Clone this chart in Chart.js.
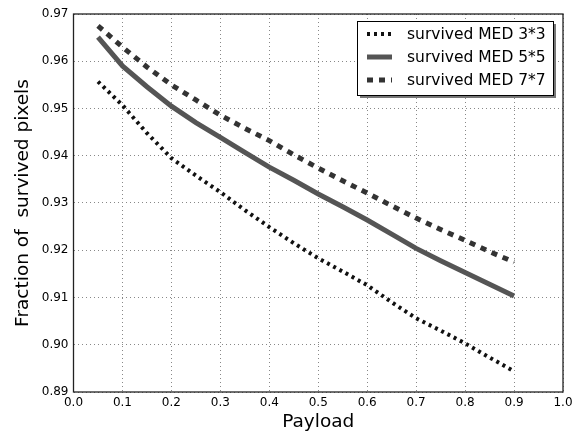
<!DOCTYPE html>
<html><head><meta charset="utf-8">
<script src="https://cdn.jsdelivr.net/npm/chart.js@4/dist/chart.umd.min.js"></script>
<style>html,body{margin:0;padding:0;background:#fff}#wrap{width:579px;height:435px}</style>
</head><body><div id="wrap"><canvas id="c" width="579" height="435"></canvas></div>
<script>
const payload = [0.05,0.1,0.15,0.2,0.25,0.3,0.35,0.4,0.45,0.5,0.55,0.6,0.65,0.7,0.75,0.8,0.85,0.9];
const med3 = [0.9557,0.9507,0.9448,0.9395,0.9358,0.9323,0.9285,0.9249,0.9215,0.9183,0.9155,0.9126,0.9090,0.9056,0.9030,0.9003,0.8973,0.8944];
const med5 = [0.9651,0.9590,0.9546,0.9505,0.9470,0.9439,0.9407,0.9376,0.9348,0.9319,0.9292,0.9264,0.9234,0.9204,0.9178,0.9153,0.9128,0.9103];
const med7 = [0.9675,0.9630,0.9588,0.9550,0.9518,0.9486,0.9458,0.9432,0.9402,0.9374,0.9347,0.9321,0.9294,0.9268,0.9244,0.9221,0.9197,0.9175];
const seriesNames = ['survived MED 3*3','survived MED 5*5','survived MED 7*7'];
const xTitle = 'Payload';
const yTitle = 'Fraction of  survived pixels';

const styles = [
  {color:'#111111', width:4, dash:[3,4]},
  {color:'#555555', width:5, dash:[]},
  {color:'#333333', width:5, dash:[6,6]}
];
const values = [med3, med5, med7];
const datasets = values.map((v,i)=>({
  label: seriesNames[i],
  data: payload.map((x,j)=>({x:x,y:v[j]})),
  borderColor: styles[i].color,
  borderWidth: styles[i].width,
  borderDash: styles[i].dash,
  borderCapStyle:'butt',
  pointRadius:0, fill:false, tension:0
}));

const FONT = "'DejaVu Sans', sans-serif";
const framePlugin = {
  id:'frame',
  afterDatasetsDraw(chart){
    const a = chart.chartArea, ctx = chart.ctx;
    ctx.save();
    ctx.strokeStyle = '#222'; ctx.lineWidth = 1.3; ctx.setLineDash([]);
    ctx.strokeRect(a.left, a.top, a.right-a.left, a.bottom-a.top);
    // legend
    const bx = 357, by = 21, bw = 196, bh = 74;
    ctx.fillStyle = '#777';
    ctx.fillRect(bx+3, by+3, bw, bh);
    ctx.fillStyle = '#fff';
    ctx.fillRect(bx, by, bw, bh);
    ctx.strokeStyle = '#000'; ctx.lineWidth = 1;
    ctx.strokeRect(bx+0.5, by+0.5, bw, bh);
    ctx.font = "15.5px " + FONT;
    ctx.textBaseline = 'middle';
    const rows = [34, 57, 80];
    chart.data.datasets.forEach((d,i)=>{
      ctx.strokeStyle = d.borderColor;
      ctx.lineWidth = d.borderWidth;
      ctx.lineCap = 'butt';
      ctx.setLineDash(d.borderDash);
      ctx.beginPath(); ctx.moveTo(367, rows[i]); ctx.lineTo(392, rows[i]); ctx.stroke();
      ctx.setLineDash([]);
      ctx.fillStyle = '#000';
      ctx.fillText(d.label, 407, rows[i]+1);
    });
    ctx.restore();
  }
};

new Chart(document.getElementById('c'), {
  type:'line',
  data:{datasets},
  options:{
    responsive:false, animation:false,
    layout:{padding:{left:0,top:14,right:16,bottom:0}},
    plugins:{legend:{display:false}, tooltip:{enabled:false}},
    scales:{
      x:{type:'linear', min:0, max:1,
        afterFit(s){ s.height = 43; },
        afterBuildTicks(s){ s.ticks = [0,0.1,0.2,0.3,0.4,0.5,0.6,0.7,0.8,0.9,1.0].map(v=>({value:v})); },
        ticks:{color:'#000', font:{family:FONT,size:12}, padding:4, maxRotation:0,
          callback:(v)=>Number(v).toFixed(1)},
        grid:{color:'#888', lineWidth:1, drawTicks:false},
        border:{display:false, dash:[1,3]},
        title:{display:true, text:xTitle, color:'#000', font:{family:FONT,size:18.5}, padding:{top:0,bottom:2}}
      },
      y:{type:'linear', min:0.89, max:0.97,
        afterFit(s){ s.width = 73.5; },
        afterBuildTicks(s){ s.ticks = [0.89,0.90,0.91,0.92,0.93,0.94,0.95,0.96,0.97].map(v=>({value:v})); },
        ticks:{color:'#000', font:{family:FONT,size:12}, padding:5,
          callback:(v)=>Number(v).toFixed(2)},
        grid:{color:'#888', lineWidth:1, drawTicks:false},
        border:{display:false, dash:[1,3]},
        title:{display:true, text:yTitle, color:'#000', font:{family:FONT,size:18.5}, padding:{top:12,bottom:6}}
      }
    }
  },
  plugins:[framePlugin]
});
</script></body></html>
